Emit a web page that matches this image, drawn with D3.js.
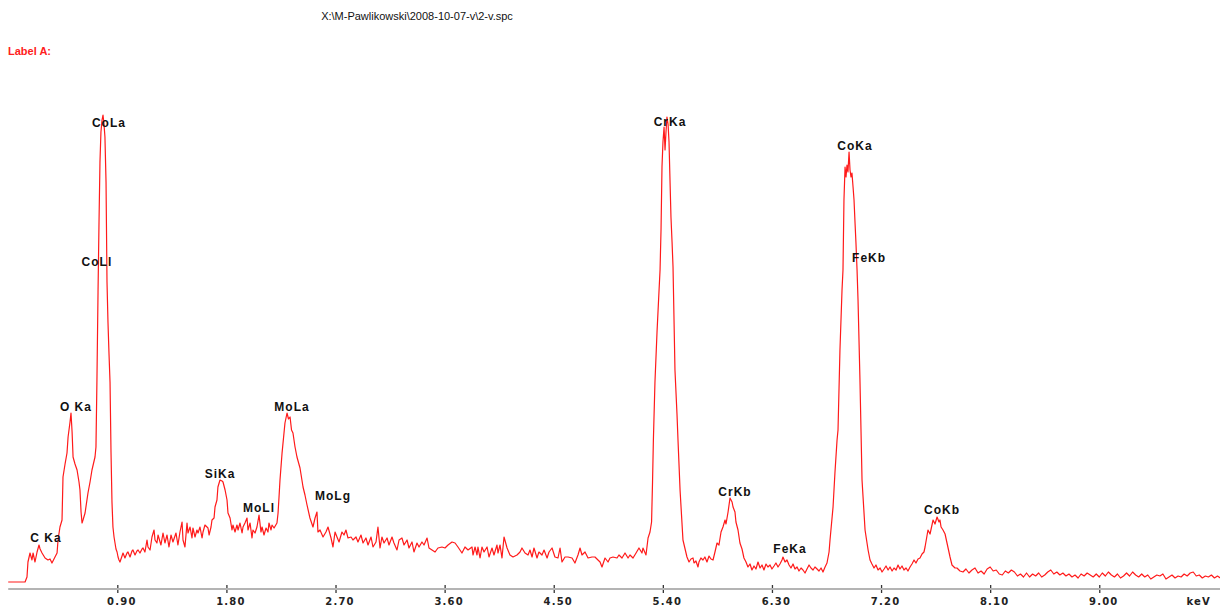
<!DOCTYPE html>
<html>
<head>
<meta charset="utf-8">
<script src="https://cdn.jsdelivr.net/npm/d3@7"></script>
<style>
  html, body { margin: 0; padding: 0; background: #fff; }
  svg { display: block; }
</style>
</head>
<body>
<div id="chart"></div>
<script>
// ---- Data ----
const titleText = "X:\\M-Pawlikowski\\2008-10-07-v\\2-v.spc";
const labelAText = "Label A:";

// [energy keV, counts]
const spectrum = [
  [0,0],[0.139,0],[0.155,5],[0.163,20],[0.180,29],[0.196,22],[0.205,29],[0.221,20],[0.238,30],[0.254,37],
  [0.263,33],[0.279,29],[0.304,24],[0.328,22],[0.345,23],[0.361,19],[0.386,25],[0.403,29],[0.411,42],[0.427,55],
  [0.444,62],[0.452,105],[0.469,118],[0.485,129],[0.494,145],[0.510,160],[0.518,169],[0.527,150],[0.535,125],[0.551,118],
  [0.568,112],[0.584,100],[0.592,92],[0.601,70],[0.609,59],[0.617,62],[0.634,69],[0.658,89],[0.675,100],[0.691,112],
  [0.716,125],[0.724,135],[0.732,202],[0.741,290],[0.749,359],[0.757,420],[0.765,450],[0.774,462],[0.782,467],[0.790,458],
  [0.798,445],[0.807,400],[0.815,300],[0.823,260],[0.831,230],[0.840,200],[0.848,130],[0.856,80],[0.864,55],[0.873,45],
  [0.881,39],[0.889,33],[0.898,30],[0.906,25],[0.914,22],
  [0.922,20],[0.939,26],[0.947,29],[0.963,24],[0.980,29],[0.988,30],[1.005,25],[1.021,31],[1.029,32],[1.046,27],
  [1.062,31],[1.071,32],[1.087,29],[1.104,33],[1.112,34],[1.128,30],[1.145,42],[1.153,35],[1.170,32],[1.186,45],
  [1.203,52],[1.211,42],[1.227,39],[1.236,47],[1.260,37],[1.277,49],[1.293,39],[1.310,47],[1.326,35],[1.343,47],
  [1.359,40],[1.384,49],[1.400,37],[1.417,50],[1.434,60],[1.442,42],[1.458,35],[1.475,59],[1.483,49],[1.500,55],
  [1.516,44],[1.524,54],[1.541,45],[1.557,52],[1.566,49],[1.582,55],[1.599,44],[1.607,50],[1.623,57],[1.648,54],
  [1.657,47],[1.673,55],[1.681,62],[1.698,64],[1.706,75],[1.722,82],[1.730,95],[1.747,102],[1.764,101],[1.772,100],
  [1.789,92],[1.805,82],[1.813,69],[1.830,64],[1.846,52],[1.854,57],[1.871,50],[1.887,57],[1.896,52],[1.912,59],
  [1.929,49],[1.937,55],[1.953,59],[1.970,64],[1.978,52],[1.995,59],[2.011,44],[2.019,52],[2.036,49],[2.052,55],
  [2.069,67],[2.085,50],[2.094,55],[2.110,47],[2.127,54],[2.143,50],[2.151,59],[2.168,52],[2.176,57],[2.193,54],
  [2.217,59],[2.226,69],[2.234,85],[2.242,102],[2.259,129],[2.283,159],[2.300,169],[2.312,163],[2.325,165],[2.337,152],
  [2.349,149],[2.366,135],[2.382,125],[2.407,114],[2.432,95],[2.448,87],[2.465,77],[2.489,64],[2.514,55],[2.531,64],
  [2.547,70],[2.555,50],[2.572,52],[2.597,45],[2.621,50],[2.638,55],[2.663,44],[2.679,35],[2.696,50],[2.712,45],
  [2.729,40],[2.753,50],[2.770,47],[2.786,52],[2.803,44],[2.828,45],[2.844,42],[2.869,45],[2.885,40],[2.910,47],
  [2.927,39],[2.951,44],[2.968,37],[2.993,45],[3.009,35],[3.034,40],[3.050,55],[3.067,34],[3.083,45],[3.100,39],
  [3.125,44],[3.141,37],[3.166,45],[3.182,39],[3.207,32],[3.224,42],[3.248,44],[3.265,37],[3.290,42],[3.306,34],
  [3.331,40],[3.347,30],[3.372,39],[3.389,35],[3.413,40],[3.430,37],[3.455,44],[3.471,34],[3.496,32],[3.521,30],
  [3.545,34],[3.578,35],[3.603,34],[3.628,37],[3.661,40],[3.686,39],[3.710,35],[3.743,29],[3.768,35],[3.793,32],
  [3.826,35],[3.834,27],[3.851,35],[3.867,27],[3.875,35],[3.892,24],[3.908,35],[3.925,30],[3.950,35],[3.966,25],
  [3.991,34],[4.007,27],[4.032,37],[4.040,29],[4.057,37],[4.073,24],[4.090,45],[4.115,34],[4.139,27],[4.164,25],
  [4.197,27],[4.222,30],[4.238,34],[4.263,29],[4.288,27],[4.304,32],[4.321,25],[4.337,34],[4.362,24],[4.378,30],
  [4.403,27],[4.420,32],[4.445,24],[4.461,30],[4.486,34],[4.510,25],[4.535,24],[4.552,34],[4.568,20],[4.593,25],
  [4.618,25],[4.651,24],[4.675,19],[4.700,27],[4.717,34],[4.733,27],[4.758,30],[4.783,24],[4.816,25],[4.840,25],
  [4.865,22],[4.882,20],[4.898,15],[4.923,24],[4.948,20],[4.964,24],[4.989,25],[5.022,24],[5.038,27],[5.063,24],
  [5.088,29],[5.113,24],[5.129,27],[5.154,24],[5.179,29],[5.203,34],[5.228,29],[5.236,34],[5.261,27],[5.278,44],
  [5.294,50],[5.307,60],[5.315,100],[5.322,142],[5.335,200],[5.352,250],[5.368,290],[5.377,312],[5.385,352],[5.393,415],
  [5.401,440],[5.410,455],[5.418,432],[5.426,450],[5.434,465],[5.443,458],[5.451,440],[5.459,402],[5.467,365],[5.476,340],
  [5.484,315],[5.500,212],[5.517,167],[5.525,142],[5.542,92],[5.566,42],[5.599,25],[5.616,20],[5.632,23],[5.649,24],
  [5.657,19],[5.673,21],[5.690,15],[5.698,20],[5.714,24],[5.731,22],[5.747,25],[5.764,20],[5.781,26],[5.797,23],
  [5.814,22],[5.830,30],[5.847,39],[5.863,37],[5.880,50],[5.896,55],[5.913,62],[5.921,58],[5.938,70],[5.954,84],
  [5.971,80],[5.979,75],[5.995,70],[6.003,60],[6.020,52],[6.036,39],[6.053,33],[6.069,24],[6.086,20],[6.102,15],
  [6.119,18],[6.135,12],[6.152,16],[6.168,13],[6.185,20],[6.202,14],[6.218,17],[6.234,12],[6.251,18],[6.267,15],
  [6.284,17],[6.300,13],[6.317,16],[6.333,19],[6.350,15],[6.366,18],[6.383,22],[6.391,25],[6.408,20],[6.424,22],
  [6.441,17],[6.457,14],[6.474,18],[6.490,13],[6.507,15],[6.523,11],[6.540,14],[6.556,12],[6.573,9],[6.589,13],
  [6.606,17],[6.622,14],[6.639,12],[6.655,15],[6.672,13],[6.688,11],[6.705,14],[6.721,10],[6.738,15],[6.754,19],
  [6.771,30],[6.779,42],[6.804,75],[6.820,110],[6.837,142],[6.845,152],[6.861,232],[6.878,292],[6.886,312],[6.894,382],
  [6.903,415],[6.911,405],[6.919,417],[6.927,410],[6.936,430],[6.944,412],[6.952,405],[6.960,409],[6.969,395],[6.977,382],
  [6.985,360],[6.993,339],[7.002,312],[7.010,282],[7.026,202],[7.043,102],[7.068,52],[7.093,32],[7.109,22],[7.125,18],
  [7.142,14],[7.158,17],[7.175,12],[7.192,14],[7.208,10],[7.225,13],[7.241,16],[7.258,12],[7.274,15],[7.291,11],
  [7.307,14],[7.324,12],[7.340,17],[7.356,13],[7.373,16],[7.389,12],[7.406,14],[7.422,11],[7.439,15],[7.455,18],
  [7.472,22],[7.488,19],[7.505,23],[7.521,24],[7.538,28],[7.554,30],[7.563,35],[7.587,52],[7.604,48],[7.629,62],
  [7.645,58],[7.662,65],[7.678,60],[7.686,62],[7.695,55],[7.711,52],[7.728,48],[7.744,39],[7.769,25],[7.785,17],
  [7.810,14],[7.826,14],[7.851,11],[7.876,10],[7.900,13],[7.925,9],[7.950,12],[7.975,14],[8.000,9],[8.025,11],
  [8.050,8],[8.075,13],[8.100,15],[8.125,11],[8.150,12],[8.175,8],[8.200,7],[8.225,11],[8.250,9],[8.275,12],
  [8.300,10],[8.325,6],[8.350,8],[8.375,5],[8.400,9],[8.425,5],[8.450,8],[8.475,6],[8.500,9],[8.525,5],
  [8.550,7],[8.575,10],[8.600,12],[8.625,8],[8.650,10],[8.675,7],[8.700,9],[8.725,6],[8.750,8],[8.775,5],
  [8.800,7],[8.825,4],[8.850,8],[8.875,6],[8.900,9],[8.925,7],[8.950,5],[8.975,8],[9.000,5],[9.025,9],
  [9.050,6],[9.075,10],[9.100,7],[9.125,5],[9.150,8],[9.175,4],[9.200,6],[9.225,9],[9.250,6],[9.275,10],
  [9.300,7],[9.325,5],[9.350,8],[9.375,5],[9.400,7],[9.425,3],[9.450,5],[9.475,7],[9.500,6],[9.525,8],
  [9.550,3],[9.575,5],[9.600,7],[9.625,4],[9.650,6],[9.675,5],[9.700,8],[9.725,6],[9.750,9],[9.775,10],
  [9.800,6],[9.825,7],[9.850,4],[9.875,6],[9.900,5],[9.925,7],[9.950,4],[9.975,6],[10.0,4]
];

// Peak labels: name, energy (keV) of label centre, count level of label baseline
const peakNames  = ["C Ka","O Ka","CoLa","CoLl","SiKa","MoLl","MoLa","MoLg","CrKa","CrKb","FeKa","CoKa","FeKb","CoKb"];
const peakEnergy = [0.312, 0.559, 0.831, 0.732, 1.747, 2.069, 2.341, 2.679, 5.459, 5.995, 6.449, 6.985, 7.101, 7.703];
const peakLevel  = [40,    171,   455,   316,   104,   70,    171,   82,    456,   86,    29,    432,   320,   68];

// Axis ticks
const tickValues = [0.90, 1.80, 2.70, 3.60, 4.50, 5.40, 6.30, 7.20, 8.10, 9.00];
const tickLabels = ["0.90","1.80","2.70","3.60","4.50","5.40","6.30","7.20","8.10","9.00"];
const unitLabel = "keV";
const unitEnergy = 9.82;

// ---- Drawing ----
const W = 1220, H = 608;
const svg = d3.select("#chart").append("svg")
  .attr("width", W).attr("height", H)
  .style("background", "#fff");

const x = d3.scaleLinear().domain([0, 10]).range([8.2, 8.2 + 1212.3]);
const y = d3.scaleLinear().domain([0, 470]).range([582, 112]);
const axisY = 589;

// title
svg.append("text")
  .attr("x", 417).attr("y", 20)
  .attr("text-anchor", "middle")
  .attr("font-family", "Liberation Sans, Arial, sans-serif")
  .attr("font-size", 11)
  .attr("fill", "#111")
  .text(titleText);

svg.append("text")
  .attr("x", 8).attr("y", 55)
  .attr("font-family", "Liberation Sans, Arial, sans-serif")
  .attr("font-size", 11)
  .attr("font-weight", "bold")
  .attr("fill", "#ff2020")
  .text(labelAText);

// axis
const axis = d3.axisBottom(x)
  .tickValues(tickValues)
  .tickSize(0)
  .tickFormat((d, i) => tickLabels[i]);

const gAxis = svg.append("g").attr("transform", `translate(0,${axisY})`).call(axis);
gAxis.select(".domain").remove();
gAxis.selectAll(".tick text").remove();

gAxis.append("line")
  .attr("x1", x(0)).attr("x2", W)
  .attr("y1", 0).attr("y2", 0)
  .attr("stroke", "#b4b4b4").attr("stroke-width", 2.2);

gAxis.selectAll(".tick").append("line")
  .attr("x1", 0).attr("x2", 0).attr("y1", -4).attr("y2", 4)
  .attr("stroke", "#333").attr("stroke-width", 1.3);

gAxis.selectAll(".tick").append("text")
  .attr("x", 4).attr("y", 16)
  .attr("text-anchor", "middle")
  .attr("font-family", "DejaVu Sans, sans-serif")
  .attr("font-size", 10)
  .attr("font-weight", "bold")
  .attr("letter-spacing", 1.2)
  .attr("fill", "#222")
  .text((d, i) => tickLabels[i]);

svg.append("text")
  .attr("x", x(unitEnergy)).attr("y", axisY + 16)
  .attr("text-anchor", "middle")
  .attr("font-family", "DejaVu Sans, sans-serif")
  .attr("font-size", 10)
  .attr("font-weight", "bold")
  .attr("letter-spacing", 1.2)
  .attr("fill", "#222")
  .text(unitLabel);

// spectrum line
const line = d3.line().x(d => x(d[0])).y(d => y(d[1]));
svg.append("path")
  .datum(spectrum)
  .attr("d", line)
  .attr("fill", "none")
  .attr("stroke", "#ff1a1a")
  .attr("stroke-width", 1.2)
  .attr("stroke-linejoin", "round");

// peak labels
svg.append("g").selectAll("text")
  .data(peakNames)
  .join("text")
  .attr("x", (d, i) => x(peakEnergy[i]))
  .attr("y", (d, i) => y(peakLevel[i]))
  .attr("text-anchor", "middle")
  .attr("font-family", "Liberation Sans, Arial, sans-serif")
  .attr("font-size", 12)
  .attr("font-weight", "bold")
  .attr("letter-spacing", 1)
  .attr("fill", "#111")
  .text(d => d);
</script>
</body>
</html>
